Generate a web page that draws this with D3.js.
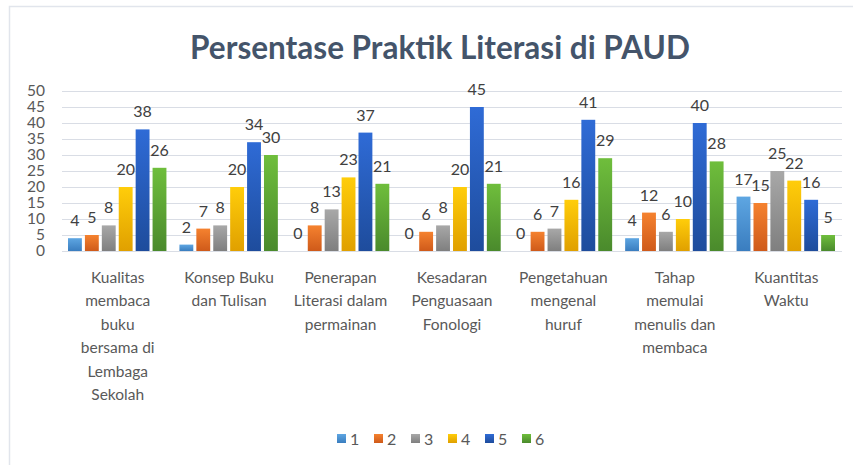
<!DOCTYPE html>
<meta charset="utf-8">
<style>
body { margin: 0; background: #fff; }
.grid line { stroke: #d9dde5; stroke-width: 1; shape-rendering: crispEdges; }
.grid path { stroke-width: 0; }
.axis text { font: 15.5px Lato, sans-serif; fill: #595959; }
.axis path, .axis line { stroke: none; }
.cat { font: 15.5px Lato, sans-serif; fill: #595959; }
.val { font: 16px Lato, sans-serif; fill: #404040; }
.title { font: bold 31.5px Lato, sans-serif; fill: #44546a; }
.legend text { font: 16px Lato, sans-serif; fill: #595959; }
</style>
<body>
<script src="https://d3js.org/d3.v7.min.js"></script>
<script>

// categories (line breaks as in the original)
var categories = [
  "Kualitas\nmembaca\nbuku\nbersama di\nLembaga\nSekolah",
  "Konsep Buku\ndan Tulisan",
  "Penerapan\nLiterasi dalam\npermainan",
  "Kesadaran\nPenguasaan\nFonologi",
  "Pengetahuan\nmengenal\nhuruf",
  "Tahap\nmemulai\nmenulis dan\nmembaca",
  "Kuantitas\nWaktu"
];
var seriesNames = ["1", "2", "3", "4", "5", "6"];
var s1 = [4, 2, 0, 0, 0, 4, 17];
var s2 = [5, 7, 8, 6, 6, 12, 15];
var s3 = [8, 8, 13, 8, 7, 6, 25];
var s4 = [20, 20, 23, 20, 16, 10, 22];
var s5 = [38, 34, 37, 45, 41, 40, 16];
var s6 = [26, 30, 21, 21, 29, 28, 5];
var yTicks = [0, 5, 10, 15, 20, 25, 30, 35, 40, 45, 50];

var series = [s1, s2, s3, s4, s5, s6];
// top / bottom colours of the gradient fills
var colTop = ["#5ea6e2", "#f5822f", "#a8a8a8", "#ffcd0a", "#2f6bd6", "#6fbe3c"];
var colBot = ["#3a7dbf", "#cf5a1a", "#7f7f7f", "#e0a000", "#1e4c9c", "#4a8a2c"];

var W = 853, H = 465;
var margin = {top: 91, left: 62, right: 11, bottom: 214};
var width = W - margin.left - margin.right,
    height = H - margin.top - margin.bottom;

var svg = d3.select("body").append("svg")
    .attr("width", W).attr("height", H);

// gradients
var defs = svg.append("defs");
seriesNames.forEach(function(n, i) {
  var g = defs.append("linearGradient").attr("id", "g" + i)
      .attr("x1", 0).attr("y1", 0).attr("x2", 0).attr("y2", 1);
  g.append("stop").attr("offset", "0%").attr("stop-color", colTop[i]);
  g.append("stop").attr("offset", "100%").attr("stop-color", colBot[i]);
});

// frame
svg.append("path")
    .attr("d", "M9.5," + H + "V6.5H" + W)
    .attr("fill", "none").attr("stroke", "#e1e5ec").attr("stroke-width", 1.5);

// title
svg.append("text").attr("class", "title")
    .attr("x", 440).attr("y", 59)
    .attr("text-anchor", "middle")
    .text("Persentase Praktik Literasi di PAUD");

var chart = svg.append("g")
    .attr("transform", "translate(" + margin.left + "," + margin.top + ")");

var x0 = d3.scaleBand().domain(d3.range(categories.length)).range([0, width]).paddingInner(0).paddingOuter(0);
var x1 = d3.scaleBand().domain(d3.range(seriesNames.length))
    .range([6, x0.bandwidth() - 7]).paddingInner(0.18).paddingOuter(0);
var y = d3.scaleLinear().domain([0, 50]).range([height, 0]);

// gridlines
chart.append("g").attr("class", "grid")
    .call(d3.axisLeft(y).tickValues(yTicks).tickSize(-width).tickFormat(""));

// y axis labels
chart.append("g").attr("class", "axis")
    .attr("transform", "translate(-17,0)")
    .call(d3.axisLeft(y).tickValues(yTicks).tickSize(0).tickPadding(0));

// bars
var groups = chart.selectAll(".grp")
    .data(categories).enter().append("g")
    .attr("transform", function(d, i) { return "translate(" + x0(i) + ",0)"; });

groups.each(function(c, ci) {
  var g = d3.select(this);
  series.forEach(function(s, si) {
    var v = s[ci];
    if (v > 0) {
      g.append("rect")
          .attr("x", x1(si)).attr("width", x1.bandwidth())
          .attr("y", y(v)).attr("height", y(0) - y(v))
          .attr("fill", "url(#g" + si + ")");
    }
    g.append("text").attr("class", "val")
        .attr("x", x1(si) + x1.bandwidth() / 2)
        .attr("y", y(v) - 12)
        .attr("text-anchor", "middle")
        .text(v);
  });
  // category label
  var lines = c.split("\n");
  var t = g.append("text").attr("class", "cat")
      .attr("text-anchor", "middle")
      .attr("x", x0.bandwidth() / 2)
      .attr("y", height + 32);
  lines.forEach(function(l, li) {
    t.append("tspan").attr("x", x0.bandwidth() / 2)
        .attr("dy", li === 0 ? 0 : 23.4).text(l);
  });
});

// legend
var legend = svg.append("g").attr("class", "legend")
    .attr("transform", "translate(337,434)");
var li = legend.selectAll("g").data(seriesNames).enter().append("g")
    .attr("transform", function(d, i) { return "translate(" + (i * 37) + ",0)"; });
li.append("rect").attr("width", 9).attr("height", 9)
    .attr("fill", function(d, i) { return "url(#g" + i + ")"; });
li.append("text").attr("x", 13).attr("y", 10.5).text(function(d) { return d; });

</script>
</body>
